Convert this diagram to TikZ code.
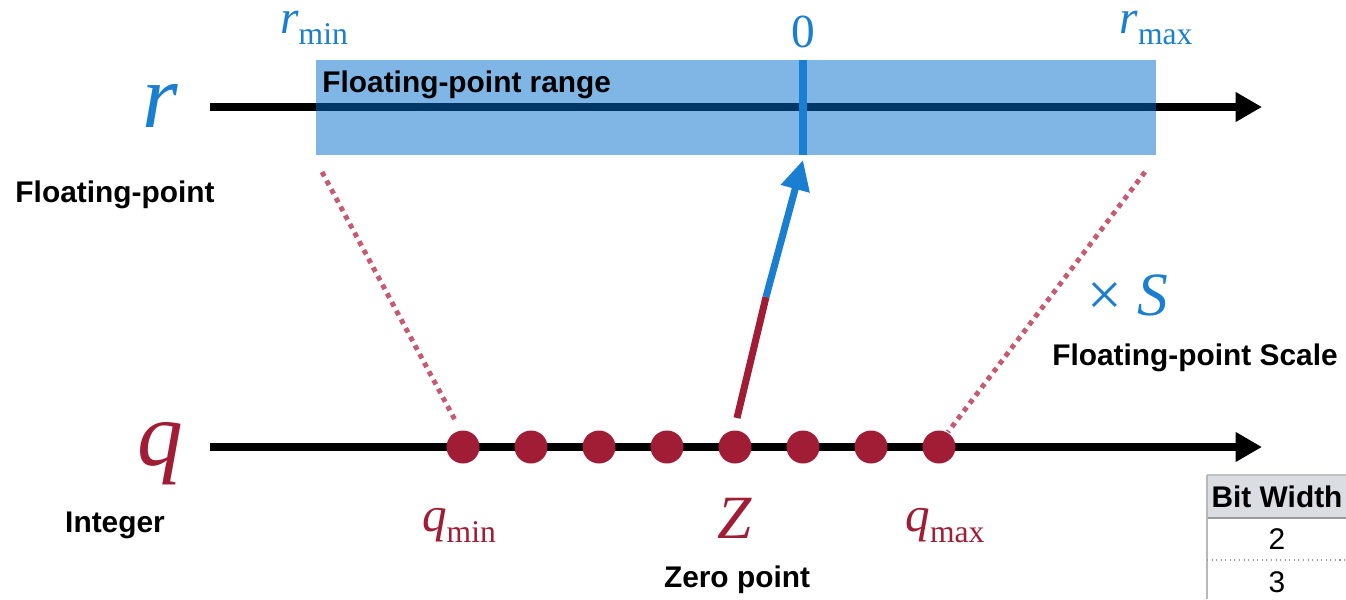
\documentclass[tikz,border=0pt]{standalone}
\usepackage{fontspec}
\setmainfont{Liberation Serif}
\setsansfont{Liberation Sans}
\usetikzlibrary{arrows.meta}
\definecolor{fpblue}{HTML}{1B7FD1}
\definecolor{rangefill}{HTML}{006ECD}
\definecolor{intred}{HTML}{A01D35}
\definecolor{mapred}{HTML}{C55A72}
\definecolor{headgray}{HTML}{DADDE1}
\definecolor{rulegray}{HTML}{9A9A9A}
\newcommand{\withsub}[2]{\textit{#1}\raisebox{-0.24em}{\fontsize{18}{18}\selectfont #2}}

\begin{document}
\begin{tikzpicture}[x=0.02cm, y=-0.02cm, line join=round,
    axis/.style={line width=4pt, -{Triangle[length=15pt, width=16pt]}},
    tag/.style={font=\sffamily\bfseries\fontsize{17}{17}\selectfont, inner sep=0pt},
    bigvar/.style={font=\fontsize{52}{52}\selectfont\itshape, inner sep=0pt, anchor=base},
    endlbl/.style={font=\fontsize{27}{27}\selectfont, inner sep=0pt, anchor=base},
    qdot/.style={fill=intred},
    maplink/.style={mapred, line width=2.8pt, dash pattern=on 2.8pt off 2.8pt}]

    \useasboundingbox (0,0) rectangle (1346,599);

    % axes: r on top, q below
    \coordinate (rstart) at (210,107);
    \coordinate (rend) at (1262,107);
    \coordinate (qstart) at (210,447);
    \coordinate (qend) at (1262,447);
    \draw[axis] (rstart) -- (rend);
    \draw[axis] (qstart) -- (qend);

    % ==========================================
    % FLOATING-POINT RANGE
    % ==========================================

    \fill[rangefill, opacity=0.5] (316,60) rectangle (1156,155);
    \draw[fpblue, line width=4pt] (803,60) -- (803,155);
    \node[tag, anchor=base west] (rangetxt) at (322,92) {Floating-point range};

    \node[bigvar, text=fpblue] (rvar) at (160,127) {r};
    \node[endlbl, text=fpblue] (rmin) at (314,33) {\withsub{r}{min}};
    \node[endlbl, text=fpblue] (zero) at (803,47) {0};
    \node[endlbl, text=fpblue] (rmax) at (1156,33) {\withsub{r}{max}};
    \node[tag] (fplbl) at (115,195) {Floating-point};

    % ==========================================
    % INTEGER GRID
    % ==========================================

    \foreach \k in {0,...,7}
        \fill[qdot] ({463+68*\k},447) circle (16.5) coordinate (d\k);

    \node[bigvar, text=intred] (qvar) at (160,465) {q};
    \node[endlbl, text=intred, font=\fontsize{28}{28}\selectfont] (qmin) at (459,531) {\withsub{q}{min}};
    \node[endlbl, text=intred, font=\fontsize{35}{35}\selectfont\itshape] (zlbl) at (735,538) {Z};
    \node[endlbl, text=intred, font=\fontsize{28}{28}\selectfont] (qmax) at (945,531) {\withsub{q}{max}};
    \node[tag] (intlbl) at (115,525) {Integer};
    \node[tag] (zplbl) at (737,580) {Zero point};

    % ==========================================
    % MAPPING
    % ==========================================

    \coordinate (lowtop) at (322,172);
    \coordinate (lowbot) at (455,420);
    \coordinate (hightop) at (1145,172);
    \coordinate (highbot) at (948,432);
    \draw[maplink] (lowtop) -- (lowbot);
    \draw[maplink] (hightop) -- (highbot);

    \coordinate (ztail) at (737,418);
    \coordinate (zmid) at (766,297);
    \coordinate (ztip) at (803,160);
    \draw[intred, line width=4pt] (ztail) -- (zmid);
    \draw[fpblue, line width=4pt, -{Triangle[length=17pt, width=16pt]}] (zmid) -- (ztip);

    \node[endlbl, text=fpblue, font=\fontsize{35}{35}\selectfont] (scale) at (1128,315) {×\hspace{0.25em}\textit{S}};
    \node[tag] (scalelbl) at (1195,358) {Floating-point Scale};

    % ==========================================
    % BIT WIDTH TABLE (cut off at the edge)
    % ==========================================

    \fill[headgray] (1207,475) rectangle (1346,518);
    \draw[rulegray!60, line width=0.6pt] (1207,475) -- (1346,475);
    \draw[rulegray, line width=1.2pt] (1207,518) -- (1346,518);
    \draw[rulegray!70, line width=0.6pt] (1207,475) -- (1207,599);
    \draw[rulegray, line width=0.6pt, dotted] (1207,560) -- (1346,560);
    \node[tag, anchor=base] (bwhead) at (1277,507) {Bit Width};
    \node[font=\sffamily\fontsize{17}{17}\selectfont, inner sep=0pt, anchor=base] (bwtwo) at (1277,549) {2};
    \node[font=\sffamily\fontsize{17}{17}\selectfont, inner sep=0pt, anchor=base] (bwthree) at (1277,592) {3};

\end{tikzpicture}
\end{document}
